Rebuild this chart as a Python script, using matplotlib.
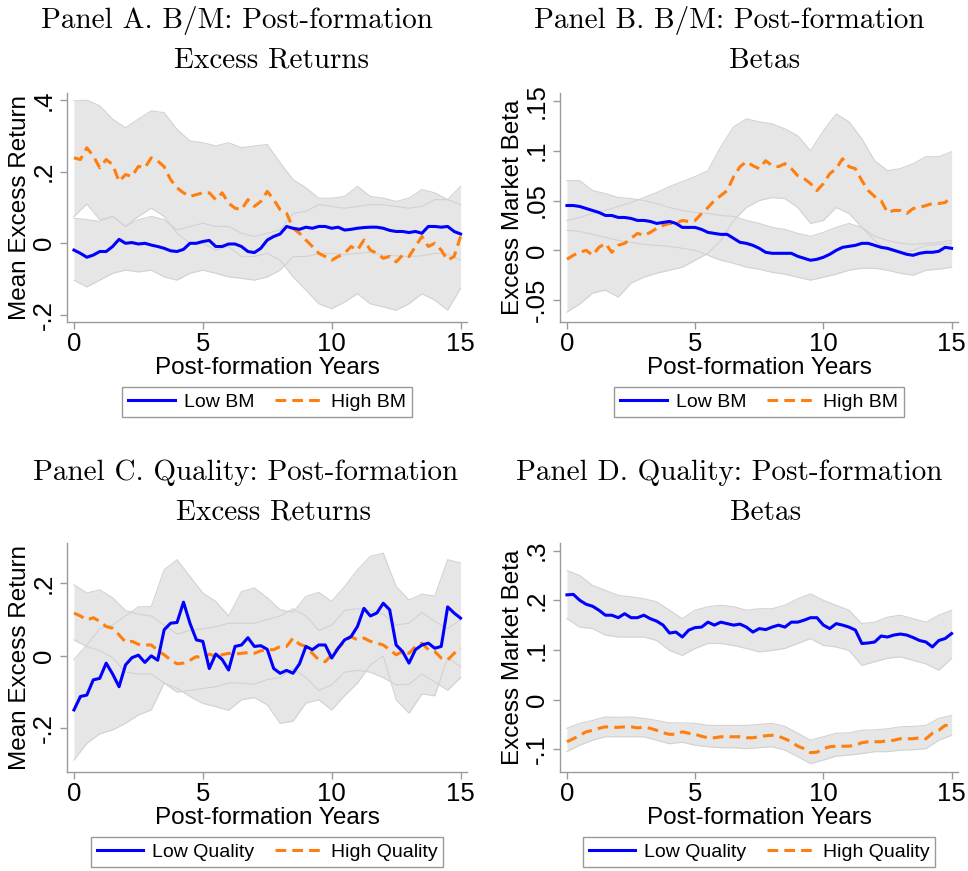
import numpy as np
import matplotlib
matplotlib.use("Agg")
import matplotlib.pyplot as plt

plt.rcParams["font.family"] = "Liberation Sans"

# ── Data ──────────────────────────────────────────────────────────────────────
t_q = np.arange(61) * 0.25   # quarterly grid, post-formation years
t_h = np.arange(31) * 0.5    # half-year grid for the confidence bands

# Panel A: B/M excess returns
a_low = [-0.019, -0.028, -0.039, -0.033, -0.023, -0.023, -0.009, 0.011, 0.000, 0.002,
         -0.002, 0.000, -0.005, -0.009, -0.014, -0.021, -0.023, -0.017, 0.000, 0.000,
         0.005, 0.008, -0.009, -0.009, -0.002, -0.002, -0.009, -0.023, -0.026, -0.014,
         0.009, 0.019, 0.026, 0.047, 0.042, 0.039, 0.045, 0.042, 0.047, 0.047,
         0.042, 0.045, 0.037, 0.039, 0.042, 0.044, 0.045, 0.045, 0.042, 0.036,
         0.033, 0.033, 0.030, 0.033, 0.028, 0.047, 0.047, 0.045, 0.047, 0.033, 0.026]
a_high = [0.239, 0.234, 0.267, 0.244, 0.211, 0.234, 0.220, 0.173, 0.192, 0.187,
          0.215, 0.211, 0.239, 0.230, 0.214, 0.178, 0.155, 0.141, 0.131, 0.136,
          0.141, 0.141, 0.122, 0.141, 0.112, 0.098, 0.094, 0.122, 0.103, 0.117,
          0.145, 0.122, 0.094, 0.084, 0.042, 0.028, 0.009, -0.009, -0.028, -0.037,
          -0.047, -0.037, -0.028, -0.009, -0.019, 0.009, -0.019, -0.028, -0.042, -0.037,
          -0.052, -0.033, -0.037, -0.009, 0.019, -0.009, 0.000, -0.019, -0.047, -0.037, 0.019]
a_low_hi = [0.070, 0.066, 0.061, 0.075, 0.047, 0.066, 0.075, 0.066, 0.037, 0.047, 0.056,
            0.047, 0.047, 0.028, 0.019, 0.028, 0.037, 0.084, 0.089, 0.108, 0.103, 0.098,
            0.103, 0.108, 0.108, 0.103, 0.098, 0.103, 0.122, 0.122, 0.108]
a_low_lo = [-0.103, -0.122, -0.103, -0.084, -0.075, -0.080, -0.075, -0.094, -0.103, -0.084,
            -0.075, -0.084, -0.094, -0.098, -0.103, -0.094, -0.075, -0.037, -0.037, -0.030,
            -0.028, -0.032, -0.028, -0.025, -0.033, -0.035, -0.037, -0.035, -0.028, -0.030, -0.047]
a_high_hi = [0.398, 0.400, 0.384, 0.347, 0.323, 0.347, 0.370, 0.365, 0.318, 0.286, 0.281,
             0.272, 0.281, 0.267, 0.272, 0.276, 0.225, 0.178, 0.155, 0.126, 0.126, 0.131,
             0.159, 0.131, 0.126, 0.117, 0.126, 0.150, 0.141, 0.122, 0.159]
a_high_lo = [0.075, 0.110, 0.066, 0.075, 0.047, 0.075, 0.098, 0.075, 0.028, 0.000, 0.000,
             -0.019, -0.009, -0.037, -0.037, -0.028, -0.047, -0.094, -0.131, -0.169, -0.183,
             -0.164, -0.141, -0.169, -0.178, -0.187, -0.169, -0.141, -0.159, -0.187, -0.126]

# Panel B: B/M betas
b_low = [0.045, 0.045, 0.044, 0.042, 0.040, 0.038, 0.035, 0.035, 0.033, 0.033,
         0.032, 0.030, 0.030, 0.029, 0.027, 0.028, 0.029, 0.027, 0.023, 0.023,
         0.023, 0.021, 0.018, 0.017, 0.016, 0.016, 0.012, 0.008, 0.007, 0.005,
         0.002, -0.002, -0.003, -0.003, -0.003, -0.003, -0.006, -0.008, -0.010, -0.009,
         -0.007, -0.004, 0.000, 0.003, 0.004, 0.005, 0.007, 0.007, 0.005, 0.003,
         0.002, 0.000, -0.002, -0.004, -0.005, -0.003, -0.002, -0.002, -0.001, 0.003, 0.002]
b_high = [-0.009, -0.005, -0.002, 0.000, -0.005, 0.003, 0.007, -0.002, 0.005, 0.007,
          0.012, 0.017, 0.015, 0.018, 0.022, 0.025, 0.027, 0.027, 0.030, 0.029,
          0.030, 0.037, 0.043, 0.050, 0.055, 0.060, 0.074, 0.084, 0.089, 0.085,
          0.082, 0.090, 0.085, 0.084, 0.087, 0.082, 0.075, 0.072, 0.067, 0.060,
          0.067, 0.077, 0.082, 0.092, 0.084, 0.082, 0.070, 0.060, 0.054, 0.050,
          0.038, 0.040, 0.040, 0.037, 0.042, 0.043, 0.045, 0.047, 0.047, 0.048, 0.054]
b_low_hi = [0.070, 0.070, 0.060, 0.057, 0.053, 0.052, 0.050, 0.047, 0.043, 0.040, 0.038,
            0.037, 0.035, 0.034, 0.030, 0.027, 0.023, 0.021, 0.017, 0.014, 0.018, 0.023,
            0.027, 0.023, 0.014, 0.010, 0.007, 0.006, 0.007, 0.008, 0.010]
b_low_lo = [0.020, 0.019, 0.016, 0.013, 0.010, 0.008, 0.006, 0.005, 0.004, 0.002, 0.000,
            -0.005, -0.010, -0.013, -0.017, -0.019, -0.022, -0.024, -0.027, -0.030, -0.027,
            -0.024, -0.020, -0.018, -0.018, -0.020, -0.023, -0.025, -0.020, -0.019, -0.017]
b_high_hi = [0.030, 0.033, 0.037, 0.040, 0.044, 0.048, 0.053, 0.058, 0.064, 0.069, 0.074,
             0.080, 0.104, 0.124, 0.132, 0.129, 0.127, 0.122, 0.115, 0.100, 0.120, 0.137,
             0.129, 0.112, 0.090, 0.080, 0.082, 0.087, 0.094, 0.094, 0.099]
b_high_lo = [-0.062, -0.054, -0.043, -0.040, -0.047, -0.033, -0.027, -0.023, -0.020, -0.017,
             -0.010, -0.003, 0.010, 0.030, 0.043, 0.050, 0.053, 0.052, 0.043, 0.027, 0.030,
             0.043, 0.037, 0.023, 0.010, 0.000, -0.002, 0.000, 0.005, 0.006, 0.007]

# Panel C: Quality excess returns
c_low = [-0.149, -0.112, -0.108, -0.066, -0.062, -0.020, -0.050, -0.085, -0.025, -0.005,
         0.002, -0.018, 0.000, -0.012, 0.072, 0.090, 0.092, 0.148, 0.090, 0.044,
         0.040, -0.035, 0.005, -0.010, -0.039, 0.026, 0.030, 0.050, 0.026, 0.028,
         0.018, -0.035, -0.048, -0.040, -0.048, -0.022, 0.026, 0.017, 0.030, 0.030,
         -0.006, 0.021, 0.044, 0.053, 0.081, 0.131, 0.110, 0.118, 0.145, 0.127,
         0.030, 0.012, -0.020, 0.017, 0.030, 0.035, 0.021, 0.026, 0.135, 0.118, 0.104]
c_high = [0.118, 0.110, 0.099, 0.105, 0.095, 0.081, 0.076, 0.058, 0.038, 0.040,
          0.032, 0.030, 0.030, 0.015, 0.003, -0.011, -0.022, -0.020, -0.012, -0.002,
          -0.006, 0.005, -0.002, 0.003, 0.007, 0.005, 0.007, 0.009, 0.007, 0.014,
          0.017, 0.017, 0.026, 0.026, 0.049, 0.032, 0.026, 0.007, -0.011, -0.016,
          0.003, 0.021, 0.040, 0.053, 0.044, 0.049, 0.040, 0.035, 0.030, 0.017,
          0.003, 0.012, 0.007, 0.026, 0.035, 0.017, 0.012, -0.006, -0.011, 0.007, 0.021]
c_low_hi = [-0.010, 0.030, 0.075, 0.085, 0.110, 0.135, 0.136, 0.237, 0.265, 0.219, 0.173,
            0.150, 0.110, 0.177, 0.187, 0.160, 0.127, 0.120, 0.164, 0.175, 0.150, 0.191,
            0.237, 0.274, 0.283, 0.191, 0.154, 0.170, 0.165, 0.265, 0.256]
c_low_lo = [-0.287, -0.241, -0.215, -0.204, -0.186, -0.163, -0.149, -0.075, -0.089, -0.112,
            -0.131, -0.140, -0.150, -0.121, -0.115, -0.135, -0.186, -0.180, -0.130, -0.121,
            -0.149, -0.110, -0.075, -0.025, 0.000, -0.121, -0.158, -0.105, -0.110, -0.005, -0.030]
c_high_hi = [0.196, 0.173, 0.182, 0.160, 0.125, 0.115, 0.110, 0.085, 0.060, 0.070, 0.075,
             0.080, 0.090, 0.090, 0.090, 0.100, 0.110, 0.130, 0.110, 0.070, 0.085, 0.125,
             0.130, 0.125, 0.115, 0.085, 0.090, 0.120, 0.095, 0.075, 0.100]
c_high_lo = [0.044, 0.025, 0.015, -0.005, -0.045, -0.050, -0.050, -0.075, -0.100, -0.095,
             -0.090, -0.085, -0.075, -0.075, -0.078, -0.065, -0.060, -0.035, -0.060, -0.095,
             -0.080, -0.045, -0.040, -0.045, -0.060, -0.080, -0.078, -0.050, -0.072, -0.095, -0.060]

# Panel D: Quality betas
d_low = [0.211, 0.212, 0.200, 0.192, 0.188, 0.180, 0.170, 0.170, 0.165, 0.173,
         0.165, 0.165, 0.170, 0.163, 0.158, 0.150, 0.134, 0.136, 0.126, 0.140,
         0.145, 0.146, 0.156, 0.150, 0.156, 0.153, 0.150, 0.152, 0.146, 0.136,
         0.143, 0.141, 0.146, 0.150, 0.146, 0.156, 0.156, 0.160, 0.165, 0.165,
         0.150, 0.143, 0.153, 0.150, 0.146, 0.140, 0.113, 0.114, 0.116, 0.128,
         0.126, 0.130, 0.132, 0.130, 0.125, 0.119, 0.116, 0.106, 0.119, 0.123, 0.133]
d_high = [-0.085, -0.079, -0.072, -0.065, -0.062, -0.058, -0.055, -0.056, -0.056, -0.055,
          -0.055, -0.057, -0.056, -0.058, -0.062, -0.067, -0.070, -0.070, -0.065, -0.068,
          -0.070, -0.074, -0.077, -0.077, -0.075, -0.075, -0.075, -0.075, -0.077, -0.077,
          -0.075, -0.073, -0.072, -0.074, -0.079, -0.085, -0.094, -0.099, -0.107, -0.106,
          -0.099, -0.095, -0.094, -0.094, -0.094, -0.092, -0.087, -0.085, -0.085, -0.085,
          -0.083, -0.082, -0.079, -0.079, -0.079, -0.077, -0.079, -0.068, -0.062, -0.052, -0.054]
d_low_hi = [0.260, 0.250, 0.230, 0.220, 0.210, 0.207, 0.203, 0.197, 0.180, 0.163, 0.180,
            0.187, 0.190, 0.187, 0.180, 0.183, 0.183, 0.190, 0.203, 0.213, 0.200, 0.190,
            0.180, 0.153, 0.156, 0.166, 0.170, 0.163, 0.156, 0.170, 0.180]
d_low_lo = [0.163, 0.146, 0.143, 0.130, 0.126, 0.126, 0.126, 0.119, 0.099, 0.089, 0.103,
            0.113, 0.113, 0.109, 0.103, 0.096, 0.099, 0.103, 0.113, 0.123, 0.109, 0.106,
            0.099, 0.069, 0.076, 0.083, 0.086, 0.079, 0.072, 0.059, 0.083]
d_high_hi = [-0.058, -0.048, -0.042, -0.035, -0.036, -0.035, -0.038, -0.042, -0.047, -0.047,
             -0.048, -0.052, -0.052, -0.052, -0.052, -0.050, -0.048, -0.054, -0.068, -0.082,
             -0.075, -0.068, -0.067, -0.062, -0.061, -0.059, -0.055, -0.054, -0.052, -0.038, -0.032]
d_high_lo = [-0.105, -0.092, -0.082, -0.075, -0.075, -0.075, -0.075, -0.082, -0.089, -0.086,
             -0.092, -0.095, -0.097, -0.097, -0.099, -0.097, -0.095, -0.102, -0.115, -0.129,
             -0.122, -0.114, -0.112, -0.109, -0.105, -0.105, -0.102, -0.101, -0.099, -0.082, -0.072]

panels = [
    dict(title1="Panel A. B/M: Post-formation", title2="Excess Returns",
         ylabel="Mean Excess Return", labels=("Low BM", "High BM"),
         low=a_low, high=a_high, bands=[(a_high_lo, a_high_hi), (a_low_lo, a_low_hi)],
         yticks=[-0.2, 0, 0.2, 0.4], yticklabels=["-.2", "0", ".2", ".4"],
         ylim=(-0.22, 0.42)),
    dict(title1="Panel B. B/M: Post-formation", title2="Betas",
         ylabel="Excess Market Beta", labels=("Low BM", "High BM"),
         low=b_low, high=b_high, bands=[(b_high_lo, b_high_hi), (b_low_lo, b_low_hi)],
         yticks=[-0.05, 0, 0.05, 0.1, 0.15], yticklabels=["-.05", "0", ".05", ".1", ".15"],
         ylim=(-0.072, 0.158)),
    dict(title1="Panel C. Quality: Post-formation", title2="Excess Returns",
         ylabel="Mean Excess Return", labels=("Low Quality", "High Quality"),
         low=c_low, high=c_high, bands=[(c_high_lo, c_high_hi), (c_low_lo, c_low_hi)],
         yticks=[-0.2, 0, 0.2], yticklabels=["-.2", "0", ".2"],
         ylim=(-0.32, 0.311)),
    dict(title1="Panel D. Quality: Post-formation", title2="Betas",
         ylabel="Excess Market Beta", labels=("Low Quality", "High Quality"),
         low=d_low, high=d_high, bands=[(d_high_lo, d_high_hi), (d_low_lo, d_low_hi)],
         yticks=[-0.1, 0, 0.1, 0.2, 0.3], yticklabels=["-.1", "0", ".1", ".2", ".3"],
         ylim=(-0.146, 0.3155)),
]

W, H = 968, 871
# axes boxes in pixels: left, top, width, height
boxes = [(67, 93, 400, 229), (560, 93, 398, 229), (67, 543, 400, 229), (560, 543, 398, 229)]
# title centres / baselines in pixels
title_pos = [((237, 28), (271, 68)), ((729, 28), (765, 68)),
             ((246, 480), (273, 520)), ((729, 480), (766, 520))]

BLUE = "#0000ff"
ORANGE = "#ff7f0e"
BAND = "#e6e6e6"
BAND_EDGE = "#d2d2d2"
AXCOL = "#9a9a9a"

fig = plt.figure(figsize=(W / 100, H / 100), dpi=100)

for p, (l, tp, w, h), (t1, t2) in zip(panels, boxes, title_pos):
    ax = fig.add_axes([l / W, 1 - (tp + h) / H, w / W, h / H])

    for lo, hi in p["bands"]:
        ax.fill_between(t_h, lo, hi, color=BAND, linewidth=0, zorder=1)
    for lo, hi in p["bands"]:
        ax.plot(t_h, lo, color=BAND_EDGE, linewidth=0.8, zorder=2)
        ax.plot(t_h, hi, color=BAND_EDGE, linewidth=0.8, zorder=2)

    ax.plot(t_q, p["low"], color=BLUE, linewidth=2.2, zorder=4, label=p["labels"][0])
    ax.plot(t_q, p["high"], color=ORANGE, linewidth=2.2, dashes=(3.5, 2.0),
            zorder=3, label=p["labels"][1])

    ax.set_xlim(-0.27, 15.25)
    ax.set_ylim(*p["ylim"])
    ax.set_xticks([0, 5, 10, 15])
    ax.set_xticklabels(["0", "5", "10", "15"])
    ax.set_yticks(p["yticks"])
    ax.set_yticklabels(p["yticklabels"], rotation=90, va="center")

    for side in ["top", "right"]:
        ax.spines[side].set_visible(False)
    for side in ["left", "bottom"]:
        ax.spines[side].set_color(AXCOL)
        ax.spines[side].set_linewidth(1.0)
    ax.tick_params(axis="both", length=5, width=1.0, color=AXCOL,
                   labelsize=18.5, labelcolor="black")
    ax.tick_params(axis="x", pad=2)
    ax.tick_params(axis="y", pad=3)

    ax.set_xlabel("Post-formation Years", fontsize=17.5)
    ax.xaxis.set_label_coords(0.5, -0.152)
    ax.set_ylabel(p["ylabel"], fontsize=17.5)
    ax.yaxis.set_label_coords(-0.09, 0.5)

    leg = ax.legend(loc="center", bbox_to_anchor=(0.5, -0.349), ncol=2,
                    fontsize=14, frameon=True, fancybox=False, handlelength=2.4,
                    handletextpad=0.45, columnspacing=1.1, borderpad=0.3,
                    borderaxespad=0)
    leg.get_frame().set_edgecolor("#808080")
    leg.get_frame().set_linewidth(1.0)

    fig.text(t1[0] / W, 1 - t1[1] / H, p["title1"], family="cmr10", fontsize=21,
             ha="center", va="baseline")
    fig.text(t2[0] / W, 1 - t2[1] / H, p["title2"], family="cmr10", fontsize=21,
             ha="center", va="baseline")

fig.savefig("out.png", dpi=100, facecolor="white")
